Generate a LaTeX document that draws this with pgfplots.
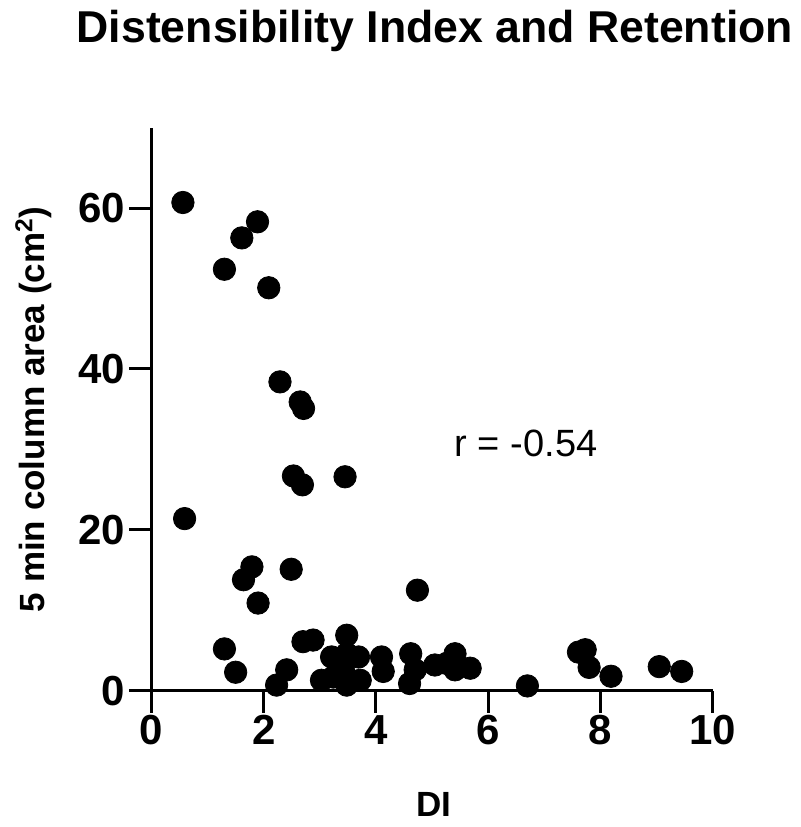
\documentclass[border=0pt]{standalone}
\usepackage{pgfplots}
\pgfplotsset{compat=1.18}
\usepackage{fontspec}
\setmainfont{Liberation Sans}
\begin{document}
\begin{tikzpicture}
\begin{axis}[
    scale only axis,
    width=280.5pt, height=281.5pt,
    xmin=0, xmax=10, ymin=0, ymax=70,
    axis lines=left,
    axis line style={line width=1.5pt, -},
    xtick={0,2,...,10},
    ytick={0,20,40,60},
    tick style={line width=1.5pt, black},
    tick align=outside,
    major tick length=11pt,
    tick label style={font=\fontsize{21}{25}\selectfont\bfseries},
    xticklabel style={inner sep=1pt},
    yticklabel style={inner sep=2pt},
    /pgf/number format/assume math mode=true,
    xlabel={DI},
    ylabel={5 min column area (cm\textsuperscript{2})},
    label style={font=\fontsize{17.5}{21}\selectfont\bfseries},
    xlabel style={at={(axis description cs:0.503,-0.2226)}, anchor=base},
    ylabel style={at={(axis description cs:-0.19,0.5)}, anchor=base},
    clip=false,
]
\addplot[only marks, mark=*, mark size=5.6pt, mark options={fill=black, draw=black}] coordinates {
(0.56,60.7) (1.89,58.3) (1.61,56.3) (1.30,52.4) (2.09,50.1)
(2.29,38.4) (2.65,35.9) (2.71,35.1)
(2.53,26.7) (2.69,25.6) (3.45,26.6) (0.59,21.4)
(1.79,15.4) (1.64,13.8) (2.49,15.1) (4.74,12.5) (1.90,10.9)
(1.30,5.2) (1.50,2.3) (2.23,0.7) (2.41,2.6) (2.70,6.1) (2.88,6.3)
(3.48,6.9) (3.21,4.2) (3.69,4.2) (3.48,4.6) (3.03,1.3) (3.24,1.7)
(3.48,0.7) (3.72,1.3) (3.42,2.6) (4.10,4.2) (4.13,2.4)
(4.62,4.6) (4.70,2.6) (4.60,0.9) (5.05,3.2) (5.41,4.6) (5.41,2.6)
(5.68,2.8) (5.26,3.4) (6.70,0.6) (7.61,4.8) (7.73,5.1) (7.80,2.9)
(8.19,1.8) (9.05,3.0) (9.45,2.4)
};
\node[font=\fontsize{19}{23}\selectfont, anchor=base] at (axis cs:6.676,29.15) {r = -0.54};
\node[font=\fontsize{22.3}{26}\selectfont\bfseries, anchor=base] at (rel axis cs:0.505,1.1505) {Distensibility Index and Retention};
\useasboundingbox (rel axis cs:-0.270,-0.242) rectangle (rel axis cs:1.156,1.2268);
\end{axis}
\end{tikzpicture}
\end{document}
